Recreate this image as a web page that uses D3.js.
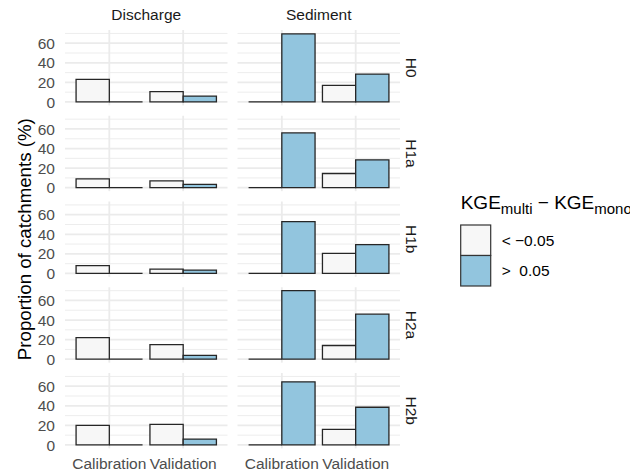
<!DOCTYPE html>
<html>
<head>
<meta charset="utf-8">
<script src="https://cdn.jsdelivr.net/npm/d3@7"></script>
<style>
  body { margin: 0; background: #fff; }
  text { font-family: "Liberation Sans", Arial, Helvetica, sans-serif; }
</style>
</head>
<body>
<div id="chart"></div>
<script>
var width = 630,
  height = 472;

// data (proportion of catchments, %)
var hypotheses = ["H0", "H1a", "H1b", "H2a", "H2b"];
var variables = ["Discharge", "Sediment"];
var periods = ["Calibration", "Validation"];
var classes = ["< \u22120.05", ">  0.05"];
var classColors = ["#f7f7f7", "#92c5de"];

// each row: [Calibration, Validation] for one hypothesis
var dischargeBelow = [[23, 10.5], [9, 7], [8, 4.5], [22, 15], [20, 21]];
var dischargeAbove = [[0, 6], [0, 3.5], [0, 3.5], [0, 4], [0, 6]];
var sedimentBelow = [[0, 17], [0, 14.5], [0, 20.5], [0, 14], [0, 16]];
var sedimentAbove = [[69.5, 28.5], [56, 28.5], [53, 29.5], [70, 46], [64.5, 38.5]];

var yTicks = [0, 20, 40, 60];
var yMinor = [10, 30, 50, 70];

var series = {
  Discharge: [dischargeBelow, dischargeAbove],
  Sediment: [sedimentBelow, sedimentAbove]
};

// layout
var panelLeft = [65, 237.5],
  panelW = 162.5,
  panelTop = 30,
  panelH = 75.4,
  panelStep = 85.75;

var svg = d3.select("#chart")
  .append("svg")
  .attr("width", width)
  .attr("height", height);

var maxV = d3.max([dischargeBelow, dischargeAbove, sedimentBelow, sedimentAbove], function(s) {
  return d3.max(s, function(r) { return d3.max(r); });
});
var yDomain = [-0.05 * maxV, 1.05 * maxV];

var xInner = d3.scaleBand().domain([0, 1]);

hypotheses.forEach(function(h, hi) {
  var top = panelTop + hi * panelStep;
  var y = d3.scaleLinear().domain(yDomain).range([top + panelH, top]);

  variables.forEach(function(v, vi) {
    var x0 = panelLeft[vi];
    var x = d3.scaleBand().domain(periods)
      .range([x0, x0 + panelW])
      .paddingInner(0.1)
      .paddingOuter(0.15);
    xInner.range([0, x.bandwidth()]);

    var g = svg.append("g");

    // minor grid
    g.selectAll(".minor").data(yMinor).enter().append("line")
      .attr("x1", x0).attr("x2", x0 + panelW)
      .attr("y1", function(d) { return y(d); })
      .attr("y2", function(d) { return y(d); })
      .attr("stroke", "#ebebeb").attr("stroke-width", 0.9);
    // major grid
    g.selectAll(".major").data(yTicks).enter().append("line")
      .attr("x1", x0).attr("x2", x0 + panelW)
      .attr("y1", function(d) { return y(d); })
      .attr("y2", function(d) { return y(d); })
      .attr("stroke", "#ebebeb").attr("stroke-width", 1.8);
    g.selectAll(".vgrid").data(periods).enter().append("line")
      .attr("x1", function(d) { return x(d) + x.bandwidth() / 2; })
      .attr("x2", function(d) { return x(d) + x.bandwidth() / 2; })
      .attr("y1", top).attr("y2", top + panelH)
      .attr("stroke", "#ebebeb").attr("stroke-width", 1.8);

    // bars (paths so zero-height bars still draw their outline)
    var bars = [];
    series[v].forEach(function(s, ci) {
      periods.forEach(function(p, pi) {
        bars.push({ period: p, cls: ci, value: s[hi][pi] });
      });
    });
    g.selectAll(".bar").data(bars).enter().append("path")
      .attr("d", function(d) {
        var xa = x(d.period) + xInner(d.cls),
          xb = xa + xInner.bandwidth(),
          ya = y(0), yb = y(d.value);
        return "M" + xa + "," + ya + "H" + xb + "V" + yb + "H" + xa + "Z";
      })
      .attr("fill", function(d) { return classColors[d.cls]; })
      .attr("stroke", "#262626")
      .attr("stroke-width", 1.3);

    if (vi === 0) {
      g.selectAll(".ytick").data(yTicks).enter().append("text")
        .attr("x", 55)
        .attr("y", function(d) { return y(d); })
        .attr("dy", "0.36em")
        .attr("text-anchor", "end")
        .attr("font-size", 15.5)
        .attr("fill", "#4d4d4d")
        .text(function(d) { return d; });
    }

    if (hi === 0) {
      svg.append("text")
        .attr("x", x0 + panelW / 2)
        .attr("y", 20)
        .attr("text-anchor", "middle")
        .attr("font-size", 15.5)
        .attr("fill", "#1a1a1a")
        .text(v);
    }

    if (hi === hypotheses.length - 1) {
      g.selectAll(".xtick").data(periods).enter().append("text")
        .attr("x", function(d) { return x(d) + x.bandwidth() / 2; })
        .attr("y", 468.5)
        .attr("text-anchor", "middle")
        .attr("font-size", 15.5)
        .attr("fill", "#4d4d4d")
        .text(function(d) { return d; });
    }
  });

  svg.append("text")
    .attr("transform", "translate(411.7," + (top + panelH / 2) + ") rotate(90)")
    .attr("text-anchor", "middle")
    .attr("dy", "0.36em")
    .attr("font-size", 15.5)
    .attr("fill", "#1a1a1a")
    .text(h);
});

// y axis title
svg.append("text")
  .attr("transform", "translate(24," + (panelTop + (4 * panelStep + panelH) / 2) + ") rotate(-90)")
  .attr("text-anchor", "middle")
  .attr("dy", "0.36em")
  .attr("font-size", 18.7)
  .attr("fill", "#000")
  .text("Proportion of catchments (%)");

// legend
var legend = svg.append("g").attr("transform", "translate(460.7,0)");
var title = legend.append("text")
  .attr("x", 0).attr("y", 209)
  .attr("font-size", 19)
  .attr("fill", "#000");
title.append("tspan").text("KGE");
title.append("tspan").attr("font-size", 15).attr("dy", 4.5).text("multi");
title.append("tspan").attr("dy", -4.5).text(" \u2212 KGE");
title.append("tspan").attr("font-size", 15).attr("dy", 4.5).text("mono");

legend.selectAll(".key").data(classes).enter().append("rect")
  .attr("x", 0)
  .attr("y", function(d, i) { return 225 + i * 30.5; })
  .attr("width", 30)
  .attr("height", 30.5)
  .attr("fill", function(d, i) { return classColors[i]; })
  .attr("stroke", "#333")
  .attr("stroke-width", 1.2);

legend.selectAll(".klab").data(classes).enter().append("text")
  .attr("x", 41)
  .attr("y", function(d, i) { return 225 + i * 30.5 + 15.25; })
  .attr("dy", "0.36em")
  .attr("font-size", 15.5)
  .attr("fill", "#000")
  .style("white-space", "pre")
  .text(function(d) { return d; });
</script>
</body>
</html>
